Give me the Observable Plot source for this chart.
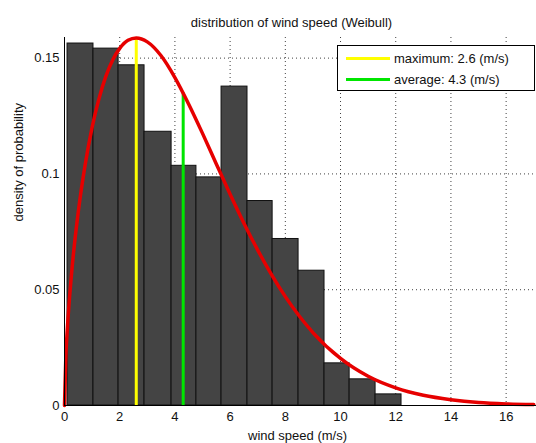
<!DOCTYPE html>
<html>
<head>
<meta charset="utf-8">
<script src="https://cdn.jsdelivr.net/npm/d3@7"></script>
<script src="https://cdn.jsdelivr.net/npm/@observablehq/plot@0.6"></script>
<style>
  body { margin: 0; background: #fff; }
  #wrap { position: relative; width: 536px; height: 443px; font-family: "Liberation Sans", Arial, sans-serif; }
  .legend { position: absolute; left: 337px; top: 45px; width: 198px; height: 46px; border: 1px solid #000; background: #fff; box-sizing: border-box; font-size: 13px; color: #111; }
  .item { position: absolute; left: 8px; height: 14px; display: flex; align-items: center; white-space: nowrap; }
  .swatch { width: 44px; height: 3px; margin-right: 4px; }
</style>
</head>
<body>
<div id="wrap"></div>
<script>
// ---- data ----
const binEdges   = [0.11, 1.05, 1.96, 2.90, 3.88, 4.78, 5.69, 6.63, 7.54, 8.48, 9.42, 10.33, 11.27, 12.21];
const binDensity = [0.1563, 0.1541, 0.1469, 0.1182, 0.1035, 0.0985, 0.1377, 0.0883, 0.0719, 0.0582, 0.0182, 0.0113, 0.0048];

const curveX = [0, 0.05, 0.1, 0.25, 0.5, 0.75, 1, 1.25, 1.5, 1.75, 2, 2.3, 2.6, 3, 3.5, 4, 4.5, 5, 5.5, 6, 6.5, 7, 7.5, 8, 9, 10, 11, 12, 13, 14, 15, 16, 17];
const curveY = [0, 0.0216, 0.0326, 0.0562, 0.0837, 0.1041, 0.1201, 0.1325, 0.1422, 0.1493, 0.1542, 0.1577, 0.1587, 0.1570, 0.1510, 0.1416, 0.1301, 0.1175, 0.1043, 0.0912, 0.0787, 0.0671, 0.0565, 0.0470, 0.0315, 0.0203, 0.0126, 0.0076, 0.0044, 0.0025, 0.0013, 0.0007, 0.0004];

const maxSpeed = 2.6, maxDensity = 0.1587;
const avgSpeed = 4.3, avgDensity = 0.1349;

const xTicks = [0, 2, 4, 6, 8, 10, 12, 14, 16];
const yTicks = [0, 0.05, 0.1, 0.15];
const yTickLabels = ["0", "0.05", "0.1", "0.15"];

const titleText = "distribution of wind speed (Weibull)";
const xLabel = "wind speed (m/s)";
const yLabel = "density of probability";
const legendItems = [
  { label: "maximum: 2.6 (m/s)", color: "#ffff00" },
  { label: "average: 4.3 (m/s)", color: "#00e600" }
];

// ---- build tables ----
const bars = binDensity.map((d, i) => ({ x1: binEdges[i], x2: binEdges[i + 1], y: d }));
const curve = curveX.map((x, i) => ({ x, y: curveY[i] }));

const gridStyle = { stroke: "#000", strokeOpacity: 0.75, strokeDasharray: "1,3", strokeWidth: 1 };

const chart = Plot.plot({
  width: 536,
  height: 443,
  marginLeft: 64,
  marginRight: 0,
  marginTop: 37,
  marginBottom: 38,
  x: { domain: [0, 17.1] },
  y: { domain: [0, 0.1589] },
  style: { fontFamily: "'Liberation Sans', Arial, sans-serif", fontSize: "13px", background: "transparent", color: "#111" },
  marks: [
    Plot.gridX(xTicks.filter(v => v > 0), gridStyle),
    Plot.gridY(yTicks.filter(v => v > 0), gridStyle),
    Plot.rectY(bars, { x1: "x1", x2: "x2", y: "y", fill: "#444444", stroke: "#111", strokeWidth: 1 }),
    Plot.ruleX([maxSpeed], { y1: 0, y2: maxDensity, stroke: legendItems[0].color, strokeWidth: 3 }),
    Plot.ruleX([avgSpeed], { y1: 0, y2: avgDensity, stroke: legendItems[1].color, strokeWidth: 3 }),
    Plot.line(curve, { x: "x", y: "y", stroke: "#e60000", strokeWidth: 3.5, curve: "monotone-x" }),
    Plot.ruleX([0], { stroke: "#000", strokeWidth: 1 }),
    Plot.ruleY([0], { stroke: "#000", strokeWidth: 1 }),
    Plot.axisX({ ticks: xTicks, tickSize: 0, tickPadding: 6, label: null }),
    Plot.axisY({ ticks: yTicks, tickFormat: (d) => yTickLabels[yTicks.indexOf(d)], tickSize: 0, tickPadding: 5, label: null }),
    Plot.text([titleText], { frameAnchor: "top", dx: -9, dy: -15, fontSize: 13, lineAnchor: "middle" }),
    Plot.text([xLabel], { frameAnchor: "bottom", dx: -3, dy: 30, fontSize: 13, lineAnchor: "middle" }),
    Plot.text([yLabel], { frameAnchor: "left", dx: -46, fontSize: 13, rotate: -90, lineAnchor: "middle" })
  ]
});

const wrap = document.getElementById("wrap");
wrap.appendChild(chart);

const legend = document.createElement("div");
legend.className = "legend";
legendItems.forEach((it, i) => {
  const row = document.createElement("div");
  row.className = "item";
  row.style.top = (5 + i * 21) + "px";
  const sw = document.createElement("div");
  sw.className = "swatch";
  sw.style.background = it.color;
  const tx = document.createElement("span");
  tx.textContent = it.label;
  row.appendChild(sw);
  row.appendChild(tx);
  legend.appendChild(row);
});
wrap.appendChild(legend);
</script>
</body>
</html>
